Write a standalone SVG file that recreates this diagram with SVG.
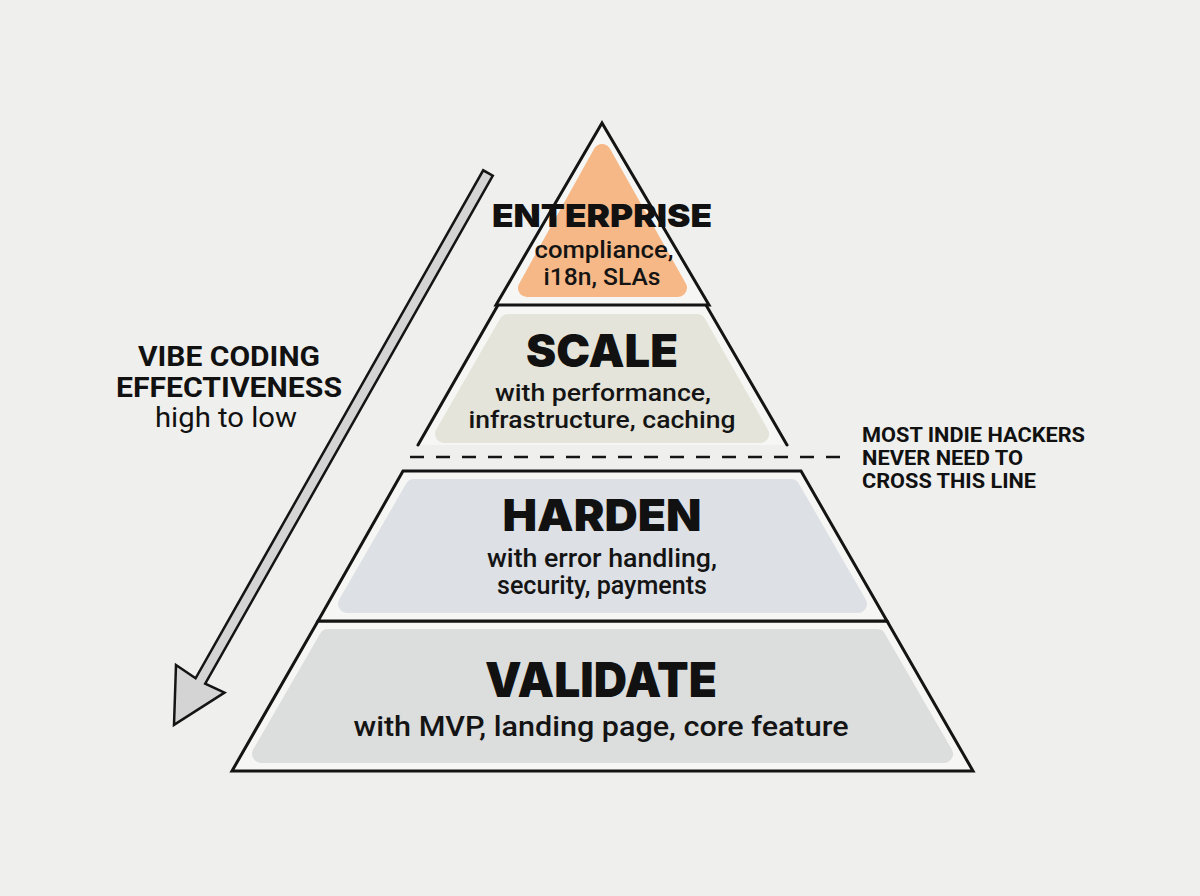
<svg xmlns="http://www.w3.org/2000/svg" width="1200" height="896" viewBox="0 0 1200 896">
<style>
.bg{fill:#efefed}
.out{fill:#f6f6f4;stroke:#141414;stroke-width:3;stroke-linejoin:miter}
.edge{fill:none;stroke:#141414;stroke-width:3;stroke-linecap:round}
.inner{stroke-width:18;stroke-linejoin:round}
.title{font-family:Inter,"Roboto","Liberation Sans",sans-serif;font-weight:900;fill:#111;text-anchor:middle}
.body{font-family:Roboto,"Liberation Sans",sans-serif;font-weight:500;fill:#141414;text-anchor:middle}
.lab{font-family:Roboto,"Liberation Sans",sans-serif;font-weight:700;fill:#111}
.sub{font-family:Roboto,"Liberation Sans",sans-serif;font-weight:400;fill:#111}
</style>
<rect class="bg" x="0" y="0" width="1200" height="896"/>

<g id="validate">
  <polygon class="out" points="318,621 887,621 973,771 232,771"/>
  <polygon class="inner" fill="#dcdddd" stroke="#dcdddd" points="328,638 877,638 944,754 261,754"/>
  <text class="title" x="601" y="697" font-size="48" textLength="232" lengthAdjust="spacingAndGlyphs">VALIDATE</text>
  <text class="body" x="601" y="736" font-size="27" textLength="495" lengthAdjust="spacingAndGlyphs">with MVP, landing page, core feature</text>
</g>

<g id="harden">
  <polygon class="out" points="403,471 801,471 887,621 318,621"/>
  <polygon class="inner" fill="#dde1e5" stroke="#dde1e5" points="414,488 791,488 858,604 347,604"/>
  <text class="title" x="602" y="531" font-size="44" textLength="199" lengthAdjust="spacingAndGlyphs">HARDEN</text>
  <text class="body" x="602" y="567" font-size="25" textLength="230" lengthAdjust="spacingAndGlyphs">with error handling,</text>
  <text class="body" x="602" y="594" font-size="25" textLength="210" lengthAdjust="spacingAndGlyphs">security, payments</text>
</g>

<g id="scale">
  <polygon fill="#f6f6f4" points="498,305 706,305 787,445 418,445"/>
  <polygon class="inner" fill="#e4e4da" stroke="#e4e4da" points="508,323 697,323 760,434 444,434"/>
  <path class="edge" d="M498,305 L418,445 M706,305 L787,445"/>
  <text class="title" x="602" y="367" font-size="45" textLength="152" lengthAdjust="spacingAndGlyphs">SCALE</text>
  <text class="body" x="603" y="401" font-size="24" textLength="216" lengthAdjust="spacingAndGlyphs">with performance,</text>
  <text class="body" x="602" y="428" font-size="24" textLength="267" lengthAdjust="spacingAndGlyphs">infrastructure, caching</text>
</g>

<g id="enterprise">
  <polygon class="out" points="602,123 496,305 709,305"/>
  <polygon class="inner" fill="#f6b886" stroke="#f6b886" points="602,153 527,288 678,288"/>
  <text class="title" x="602" y="227" font-size="32" textLength="220" lengthAdjust="spacingAndGlyphs">ENTERPRISE</text>
  <text class="body" x="604" y="258" font-size="24" textLength="139" lengthAdjust="spacingAndGlyphs">compliance,</text>
  <text class="body" x="602" y="285" font-size="24" textLength="117" lengthAdjust="spacingAndGlyphs">i18n, SLAs</text>
</g>

<g id="effectiveness-label">
  <text class="lab" x="229" y="366" font-size="27" text-anchor="middle" textLength="182" lengthAdjust="spacingAndGlyphs">VIBE CODING</text>
  <text class="lab" x="229" y="397" font-size="27" text-anchor="middle" textLength="226" lengthAdjust="spacingAndGlyphs">EFFECTIVENESS</text>
  <text class="sub" x="226" y="427" font-size="27" text-anchor="middle" textLength="142" lengthAdjust="spacingAndGlyphs">high to low</text>
</g>

<g id="line-note">
  <text class="lab" x="862" y="442" font-size="20" textLength="223" lengthAdjust="spacingAndGlyphs">MOST INDIE HACKERS</text>
  <text class="lab" x="862" y="465" font-size="20" textLength="161" lengthAdjust="spacingAndGlyphs">NEVER NEED TO</text>
  <text class="lab" x="862" y="488" font-size="20" textLength="174" lengthAdjust="spacingAndGlyphs">CROSS THIS LINE</text>
</g>

<g id="connectors">
  <line x1="410" y1="457" x2="845" y2="457" stroke="#141414" stroke-width="2.5" stroke-dasharray="14 12"/>
  <polygon fill="#d4d4d4" stroke="#141414" stroke-width="2.5" stroke-linejoin="miter" points="492.8,175.7 205.2,683.7 224.5,692.6 174,724.8 176,665 195.6,678.3 483.2,170.3"/>
</g>
</svg>
